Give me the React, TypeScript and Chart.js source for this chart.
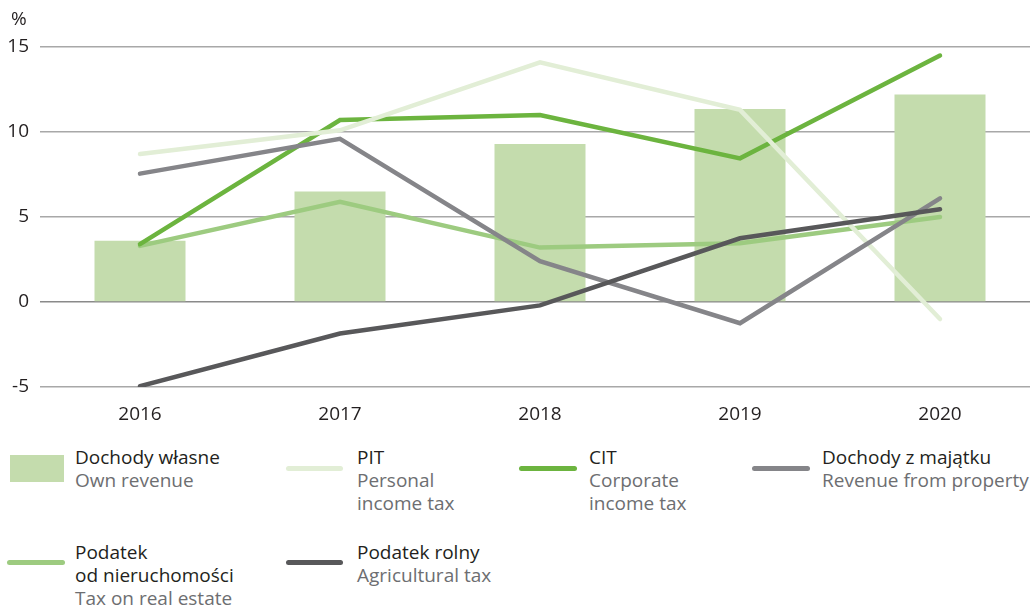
import React, { useEffect, useRef } from "react";
import { Chart, registerables } from "chart.js";

Chart.register(...registerables);

const years = ["2016", "2017", "2018", "2019", "2020"];
const ownRevenue = [3.6, 6.5, 9.3, 11.35, 12.2];
const pit = [8.7, 10.1, 14.1, 11.3, -1.0];
const cit = [3.4, 10.7, 11.0, 8.45, 14.5];
const propertyRevenue = [7.55, 9.6, 2.4, -1.25, 6.1];
const realEstateTax = [3.3, 5.9, 3.2, 3.45, 5.0];
const agriculturalTax = [-4.95, -1.85, -0.2, 3.75, 5.45];
const yTicks = [-5, 0, 5, 10, 15];

const C_BAR = "#c4dcad";
const C_PIT = "#e2eed6";
const C_CIT = "#6cb43f";
const C_PROP = "#858589";
const C_RE = "#9dcb80";
const C_AGR = "#58585a";

const FONT = "'Open Sans', sans-serif";
const FS = 19;

type LegendItem = {
  kind: "box" | "line";
  color: string;
  mx: number;
  mw: number;
  my: number;
  tx: number;
  ty: number;
  title: string[];
  sub: string[];
};

const legendItems: LegendItem[] = [
  { kind: "box", color: C_BAR, mx: 10, mw: 54, my: 468, tx: 75, ty: 457, title: ["Dochody własne"], sub: ["Own revenue"] },
  { kind: "line", color: C_PIT, mx: 286, mw: 57, my: 468, tx: 357, ty: 457, title: ["PIT"], sub: ["Personal", "income tax"] },
  { kind: "line", color: C_CIT, mx: 519, mw: 58, my: 468, tx: 589, ty: 457, title: ["CIT"], sub: ["Corporate", "income tax"] },
  { kind: "line", color: C_PROP, mx: 752, mw: 58, my: 468, tx: 822, ty: 457, title: ["Dochody z majątku"], sub: ["Revenue from property"] },
  { kind: "line", color: C_RE, mx: 7, mw: 58, my: 562, tx: 75, ty: 552, title: ["Podatek", "od nieruchomości"], sub: ["Tax on real estate"] },
  { kind: "line", color: C_AGR, mx: 286, mw: 57, my: 562, tx: 357, ty: 552, title: ["Podatek rolny"], sub: ["Agricultural tax"] },
];

export default function App() {
  const ref = useRef<HTMLCanvasElement | null>(null);

  useEffect(() => {
    if (!ref.current) return;
    const lineDs = (label: string, data: number[], color: string, order: number) => ({
      type: "line" as const,
      label,
      data,
      borderColor: color,
      backgroundColor: color,
      borderWidth: 4.5,
      borderCapStyle: "round" as const,
      pointRadius: 0,
      tension: 0,
      order,
    });
    const chart = new Chart(ref.current, {
      type: "bar",
      data: {
        labels: years,
        datasets: [
          lineDs("Podatek rolny", agriculturalTax, C_AGR, 2),
          lineDs("Dochody z majątku", propertyRevenue, C_PROP, 3),
          lineDs("PIT", pit, C_PIT, 4),
          lineDs("CIT", cit, C_CIT, 5),
          lineDs("Podatek od nieruchomości", realEstateTax, C_RE, 6),
          {
            type: "bar" as const,
            label: "Dochody własne",
            data: ownRevenue,
            backgroundColor: C_BAR,
            borderWidth: 0,
            barPercentage: 0.455,
            categoryPercentage: 1,
            order: 10,
          } as any,
        ],
      },
      options: {
        animation: false,
        responsive: false,
        maintainAspectRatio: false,
        layout: { padding: { top: 47, left: 0, right: 0, bottom: 0 } },
        plugins: { legend: { display: false }, tooltip: { enabled: false } },
        scales: {
          x: {
            offset: true,
            grid: { display: false },
            border: { display: false },
            ticks: { color: "#231f20", font: { family: FONT, size: FS }, padding: 8 },
            afterFit: (s: any) => {
              s.height = 38;
            },
          },
          y: {
            min: -5,
            max: 15,
            afterBuildTicks: (s: any) => {
              s.ticks = yTicks.map((v) => ({ value: v }));
            },
            grid: {
              drawTicks: false,
              color: (c: any) => (c.tick && c.tick.value === 0 ? "#8a8a8a" : "#a8a8a8"),
              lineWidth: 1.5,
            },
            border: { display: false },
            ticks: { color: "#231f20", font: { family: FONT, size: FS }, padding: 11 },
            afterFit: (s: any) => {
              s.width = 40;
            },
          },
        },
      },
    });
    return () => chart.destroy();
  }, []);

  return (
    <div style={{ position: "fixed", left: 0, top: 0, width: 1030, height: 605, overflow: "hidden", background: "#fff", fontFamily: FONT }}>
      <canvas ref={ref} width={1040} height={425} style={{ position: "absolute", left: 0, top: 0, width: 1040, height: 425 }} />
      <div style={{ position: "absolute", left: 11, top: 7, fontSize: FS, color: "#231f20", lineHeight: "23px" }}>%</div>
      {legendItems.map((it, i) => (
        <React.Fragment key={i}>
          {it.kind === "box" ? (
            <div style={{ position: "absolute", left: it.mx, top: it.my - 13.5, width: it.mw, height: 27, background: it.color }} />
          ) : (
            <div style={{ position: "absolute", left: it.mx, top: it.my - 2.5, width: it.mw, height: 5, borderRadius: 3, background: it.color }} />
          )}
          <div style={{ position: "absolute", left: it.tx, top: it.ty - 11.5, fontSize: FS, lineHeight: "23px", whiteSpace: "nowrap" }}>
            {it.title.map((t, j) => (
              <div key={"t" + j} style={{ color: "#231f20" }}>{t}</div>
            ))}
            {it.sub.map((t, j) => (
              <div key={"s" + j} style={{ color: "#6d6e71" }}>{t}</div>
            ))}
          </div>
        </React.Fragment>
      ))}
    </div>
  );
}
